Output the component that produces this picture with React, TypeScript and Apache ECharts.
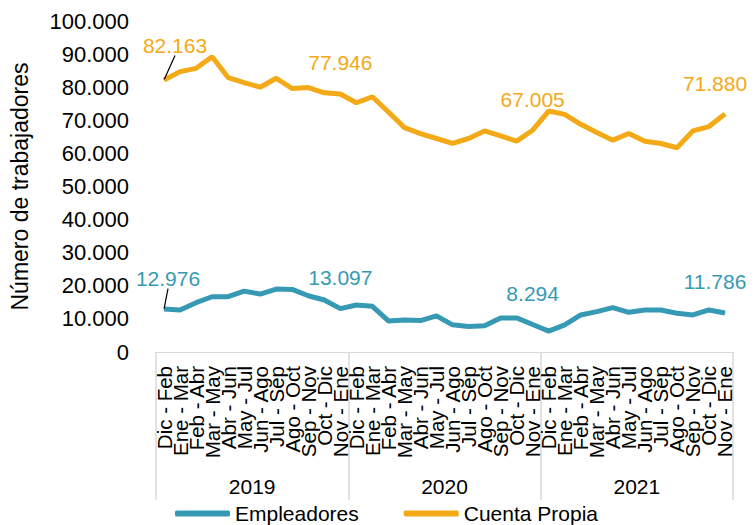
import React, { useEffect, useRef } from "react";
import * as echarts from "echarts";

const months = [
  "Dic - Feb", "Ene - Mar", "Feb - Abr", "Mar - May", "Abr - Jun", "May - Jul",
  "Jun - Ago", "Jul - Sep", "Ago - Oct", "Sep - Nov", "Oct - Dic", "Nov - Ene",
];
const years = ["2019", "2020", "2021"];
const categories = [...months, ...months, ...months];

const empleadores = [
  12976, 12700, 14900, 16700, 16700, 18400, 17500, 19000, 18900, 17000, 15700, 13097,
  14200, 13800, 9400, 9700, 9500, 10900, 8200, 7700, 7900, 10300, 10300, 8294,
  6300, 8200, 11200, 12200, 13400, 12000, 12700, 12700, 11700, 11200, 12700, 11786,
];
const cuentaPropia = [
  82163, 84700, 85700, 89200, 82900, 81400, 80000, 82700, 79600, 79900, 78300, 77946,
  75300, 77100, 72500, 67800, 66000, 64500, 63000, 64500, 66800, 65300, 63700, 67005,
  72800, 71800, 68800, 66300, 64000, 66000, 63700, 63000, 61700, 66800, 68100, 71880,
];
const labeledIdx = [0, 11, 23, 35];

const TEAL = "#379AB4";
const ORANGE = "#F4A916";
const FONT = "'Liberation Sans', Arial, sans-serif";

function fmt(v: number): string {
  return Math.round(v).toString().replace(/\B(?=(\d{3})+(?!\d))/g, ".");
}

function buildData(values: number[]) {
  return values.map((v, i) =>
    labeledIdx.includes(i)
      ? { value: v, label: { show: true }, labelLine: { show: i === 0 } }
      : { value: v }
  );
}

export default function App() {
  const ref = useRef<HTMLDivElement>(null);
  useEffect(() => {
    if (!ref.current) return;
    const chart = echarts.init(ref.current, undefined, { renderer: "svg" });
    const mkSeries = (name: string, values: number[], color: string, d0: [number, number]) => ({
      name,
      type: "line",
      data: buildData(values),
      xAxisIndex: 0,
      showSymbol: true,
      symbol: "circle",
      symbolSize: 1,
      itemStyle: { color },
      lineStyle: { color, width: 5 },
      label: {
        show: false,
        position: "top",
        distance: 20,
        color,
        fontSize: 21,
        fontFamily: FONT,
        formatter: (p: any) => fmt(p.value),
      },
      labelLine: { show: false, lineStyle: { color: "#000", width: 1.2 } },
      labelLayout: (p: any) => {
        if (p.dataIndex === 0) return { dx: d0[0], dy: d0[1] };
        if (p.dataIndex === 35) return { dx: -10 };
        return {};
      },
      emphasis: { disabled: true },
    });
    chart.setOption({
      animation: false,
      textStyle: { fontFamily: FONT },
      grid: { left: 155, right: 23, top: 21, bottom: 173, containLabel: false },
      legend: {
        left: 175,
        top: 503,
        padding: 0,
        itemWidth: 55,
        itemHeight: 6,
        itemGap: 45,
        icon: "roundRect",
        textStyle: { fontSize: 21, color: "#000", fontFamily: FONT },
        data: ["Empleadores", "Cuenta Propia"],
      },
      xAxis: [
        {
          type: "category",
          data: categories,
          position: "bottom",
          boundaryGap: true,
          axisLine: { show: true, lineStyle: { color: "#d9d9d9", width: 1 } },
          axisTick: { show: false },
          axisLabel: {
            interval: 0,
            rotate: 90,
            fontSize: 20.5,
            color: "#000",
            margin: 14,
            fontFamily: FONT,
          },
        },
        {
          type: "category",
          data: years,
          position: "bottom",
          boundaryGap: true,
          axisLine: { show: false },
          axisTick: { show: true, length: 148, lineStyle: { color: "#d9d9d9", width: 1.5 } },
          axisLabel: { fontSize: 21, color: "#000", margin: 124, fontFamily: FONT },
        },
      ],
      yAxis: {
        type: "value",
        min: 0,
        max: 100000,
        interval: 10000,
        name: "Número de trabajadores",
        nameLocation: "middle",
        nameGap: 125,
        nameTextStyle: { fontSize: 23, color: "#000", fontFamily: FONT },
        axisLine: { show: false },
        axisTick: { show: false },
        splitLine: { show: false },
        axisLabel: {
          fontSize: 22,
          color: "#000",
          margin: 27,
          fontFamily: FONT,
          formatter: (v: number) => fmt(v),
        },
      },
      series: [
        mkSeries("Empleadores", empleadores, TEAL, [4, 0]),
        mkSeries("Cuenta Propia", cuentaPropia, ORANGE, [11, -4]),
      ],
    });
    return () => chart.dispose();
  }, []);
  return (
    <div
      ref={ref}
      style={{ position: "absolute", left: 0, top: 0, width: 756, height: 525 }}
    />
  );
}
